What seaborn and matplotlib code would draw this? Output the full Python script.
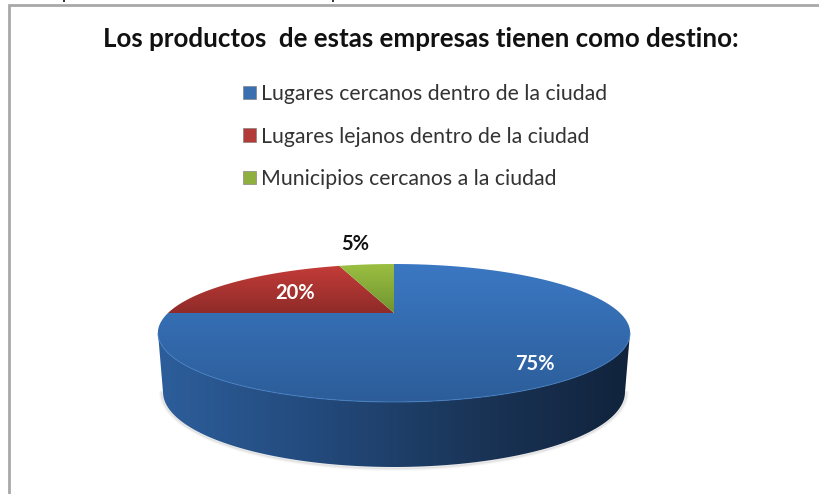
import numpy as np
import seaborn as sns
from matplotlib import pyplot as plt
from matplotlib.colors import LinearSegmentedColormap
from matplotlib.patches import Patch, Polygon

# data
title = "Los productos  de estas empresas tienen como destino:"
categories = ["Lugares cercanos dentro de la ciudad",
              "Lugares lejanos dentro de la ciudad",
              "Municipios cercanos a la ciudad"]
values = [75, 20, 5]
top_colors = ["#3b78c3", "#c43c38", "#9bbf41"]
bottom_colors = ["#2c5d99", "#8f2b29", "#6f9430"]
legend_colors = ["#3a6fb0", "#b23a37", "#8fb03f"]

sns.set_theme(style="white")
plt.rcParams['font.family'] = ['Lato', 'DejaVu Sans']


def tilt(wedge):
    # unit pie wedge -> perspective view, in pixels of the picture
    ang = np.radians(np.linspace(wedge.theta1, wedge.theta2, 300))
    u = np.concatenate([[0], wedge.r * np.cos(ang)])
    v = np.concatenate([[0], wedge.r * np.sin(ang)])
    den = 1 + 0.29 * v
    return np.column_stack([394 + 226 * u / den, 313 - 63.2 * v / den])


def fill_gradient(ax, poly, colors, horizontal=False):
    # image with a colour ramp, clipped to the polygon
    cmap = LinearSegmentedColormap.from_list("ramp", colors)
    ramp = np.linspace(0, 1, 256)
    ramp = ramp[None, :] if horizontal else ramp[:, None]
    x0, y0 = poly.min(axis=0)
    x1, y1 = poly.max(axis=0)
    img = ax.imshow(ramp, cmap=cmap, extent=(x0, x1, y1, y0), aspect="auto",
                    interpolation="bilinear", zorder=2)
    patch = Polygon(poly, closed=True, facecolor="none", edgecolor="none", transform=ax.transData)
    ax.add_patch(patch)
    img.set_clip_path(patch)


fig = plt.figure(figsize=(8.2, 4.94), dpi=100)
ax = fig.add_axes([0, 0, 1, 1])

# the pie itself, the wedges get tilted afterwards
pie_ax = fig.add_axes([0, 0, 0.1, 0.1])
wedges, _ = pie_ax.pie(values, startangle=90, counterclock=False)
shapes = [tilt(w) for w in wedges]
pie_ax.remove()

# side wall
t = np.linspace(0, np.pi, 200)
upper = np.column_stack([394 + 236 * np.cos(t), 333 + 69 * np.sin(t)])
lower = np.column_stack([394 + 231 * np.cos(t), 392 + 75 * np.sin(t)])
wall = np.vstack([upper, lower[::-1]])

# soft shadow under the wall
for grow, alpha in zip([3, 2, 1], [0.04, 0.07, 0.12]):
    ax.plot(394 + (231 + grow) * np.cos(t), 392 + (75 + grow) * np.sin(t),
            color="#666666", lw=1.5, alpha=alpha, zorder=1)

fill_gradient(ax, wall, ["#2d5e9b", "#234a7c", "#1a3558", "#11233c"], horizontal=True)

for poly, c0, c1 in zip(shapes, top_colors, bottom_colors):
    fill_gradient(ax, poly, [c0, c1])

# light rim on the front edge
ax.plot(upper[:, 0], upper[:, 1], color="#4480c6", lw=0.8, alpha=0.7, zorder=3)

# value labels
ax.text(355, 244, f"{values[2]}%", ha="center", va="center", fontsize=14.5, fontweight="bold", color="#111111", zorder=4)
ax.text(295, 293, f"{values[1]}%", ha="center", va="center", fontsize=14.5, fontweight="bold", color="white", zorder=4)
ax.text(535, 364, f"{values[0]}%", ha="center", va="center", fontsize=14.5, fontweight="bold", color="white", zorder=4)

# title and legend
ax.text(421, 39, title, ha="center", va="center", fontsize=18.6, fontweight="bold", color="#111111")
handles = [Patch(facecolor=c, edgecolor="#777777", lw=0.4) for c in legend_colors]
ax.legend(handles, categories, loc="upper left", bbox_to_anchor=(243 / 820, 1 - 84 / 494),
          frameon=False, fontsize=15.3, labelspacing=1.06, handlelength=0.62, handleheight=0.62,
          handletextpad=0.23, labelcolor="#333333", borderpad=0, borderaxespad=0)

# frame of the embedded chart and the cut off text above it
ax.plot([9.5, 9.5, 820], [494, 5.5, 5.5], color="#a8a8a8", lw=2, solid_joinstyle="miter", zorder=5)
ax.vlines([64, 333], 0, 2, color="#111111", lw=1.2)

ax.set_xlim(0, 820)
ax.set_ylim(494, 0)
ax.axis("off")
fig.savefig("out.png", dpi=100)
